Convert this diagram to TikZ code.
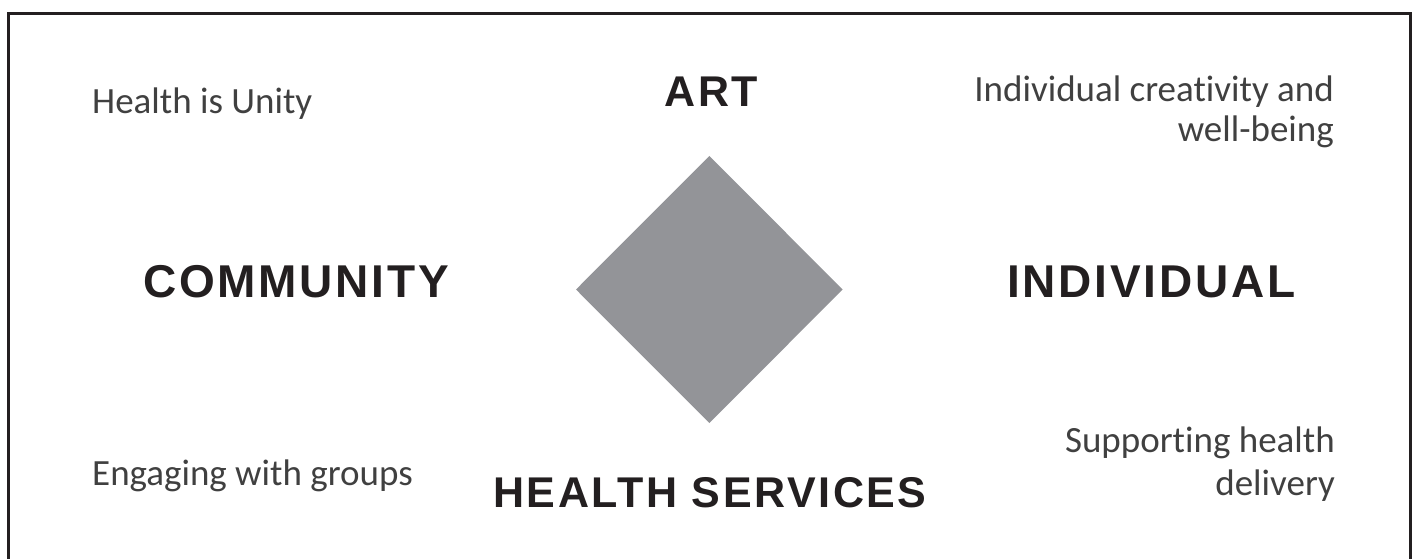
\documentclass[tikz,border=0pt]{standalone}
\usepackage{fontspec}
\setmainfont[RawFeature={-liga;-clig;-calt;-dlig}]{Carlito}
\newfontfamily\headfont[LetterSpace=6]{Liberation Sans Bold}
\definecolor{framecol}{HTML}{231F20}
\definecolor{diamondcol}{HTML}{939498}
\definecolor{lightink}{HTML}{404040}
\tikzset{
  head/.style={inner sep=0pt, text=framecol, font=\headfont\fontsize{46}{48}\selectfont},
  note/.style={inner sep=0pt, text=lightink, font=\fontsize{37}{40}\selectfont},
}
\begin{document}
\begin{tikzpicture}[x=1pt,y=-1pt]
  \useasboundingbox (0,0) rectangle (1417,559);
  % open frame running off the lower edge
  \begin{scope}
    \clip (0,0) rectangle (1417,559);
    \draw[framecol, line width=3pt] (8.3,580) -- (8.3,14) -- (1410.7,14) -- (1410.7,580);
  \end{scope}
  % central diamond
  \fill[diamondcol] (709.3,156) -- (842.7,289.5) -- (709.3,423) -- (576,289.5) -- cycle;
  % axis headings
  \node[head, anchor=base, font=\headfont\fontsize{43}{45}\selectfont] (art) at (711.5,107) {ART};
  \node[head, anchor=base west] (community) at (143,297) {COMMUNITY};
  \node[head, anchor=base west] (individual) at (1007,297) {INDIVIDUAL};
  \node[head, anchor=base, font=\headfont\fontsize{43}{46}\selectfont] (services) at (710,507) {HEALTH SERVICES};
  % quadrant notes
  \node[note, anchor=base west] (unity) at (92,114) {Health is Unity};
  \node[note, anchor=base east] (creat1) at (1334,102) {Individual creativity and};
  \node[note, anchor=base east] (creat2) at (1334,142) {well-being};
  \node[note, anchor=base west] (groups) at (92,485) {Engaging with groups};
  \node[note, anchor=base east] (deliv1) at (1335,452) {Supporting health};
  \node[note, anchor=base east] (deliv2) at (1335,495) {delivery};
\end{tikzpicture}
\end{document}
